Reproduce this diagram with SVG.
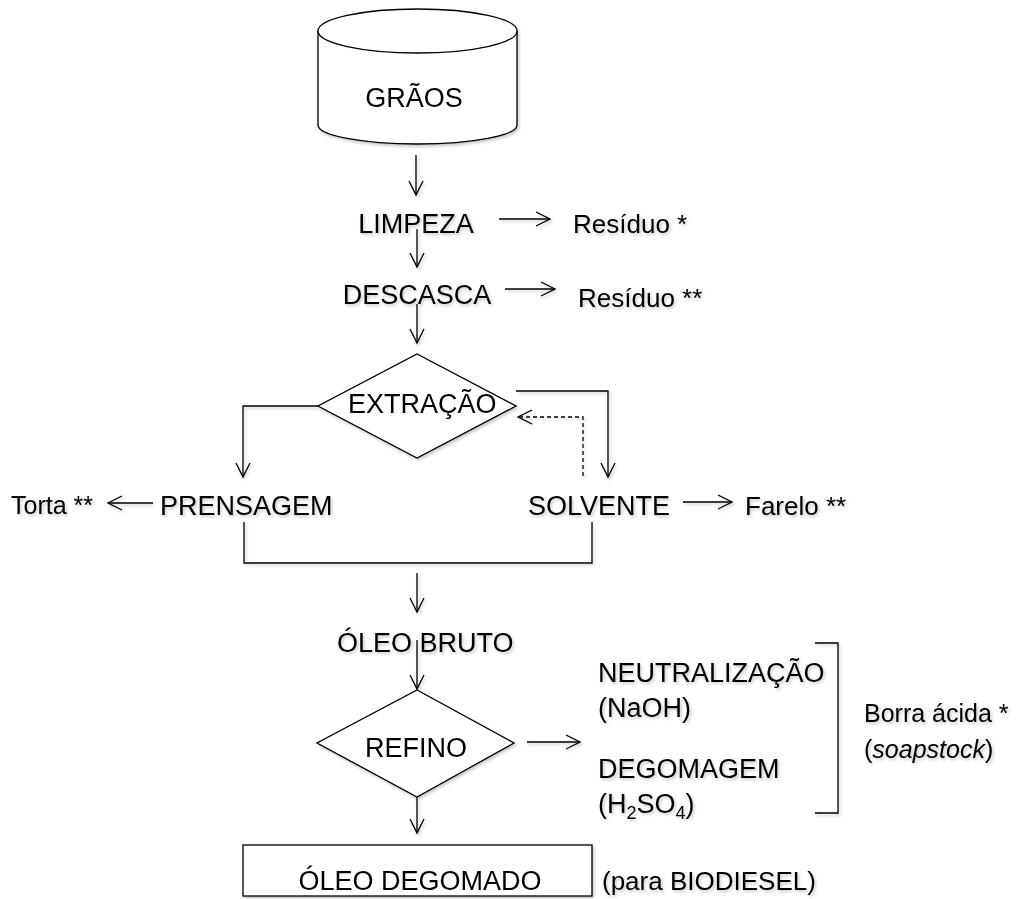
<svg xmlns="http://www.w3.org/2000/svg" width="1017" height="899" viewBox="0 0 1017 899">
<style>
  text { font-family: "Liberation Sans", Arial, sans-serif; font-size: 27px; fill: #000; }
  .s { font-size: 26px; }
  .t { font-size: 25px; }
  .ln { fill: none; stroke: #000; stroke-width: 1.3; }
  .sh { fill: #fff; stroke: #000; stroke-width: 1.3; }
  .dash { fill: none; stroke: #000; stroke-width: 1.3; stroke-dasharray: 4 3; }
</style>
<defs>
  <filter id="shadow" x="-5%" y="-5%" width="110%" height="110%">
    <feDropShadow dx="1.5" dy="2" stdDeviation="1.5" flood-color="#000" flood-opacity="0.22"/>
  </filter>
  <marker id="ah" viewBox="-16 -9 18 18" refX="0" refY="0" markerWidth="18" markerHeight="18" orient="auto" markerUnits="userSpaceOnUse">
    <path d="M-14,-7 L0,0 L-14,7" fill="none" stroke="#000" stroke-width="1.3"/>
  </marker>
</defs>
<rect width="1017" height="899" fill="#fff"/>
<g filter="url(#shadow)">
  <g id="n-graos">
    <path class="sh" d="M318,31 L318,125 A99.5,19 0 0 0 517,125 L517,31"/>
    <ellipse class="sh" cx="417.5" cy="31" rx="99.5" ry="22"/>
    <text x="414" y="107" text-anchor="middle">GRÃOS</text>
  </g>
  <g id="n-limpeza"><text x="416" y="233" text-anchor="middle">LIMPEZA</text></g>
  <g id="n-residuo1"><text class="s" x="573" y="233">Resíduo *</text></g>
  <g id="n-descasca"><text x="417" y="304" text-anchor="middle">DESCASCA</text></g>
  <g id="n-residuo2"><text class="s" x="578" y="307">Resíduo **</text></g>
  <g id="n-extracao">
    <polygon class="sh" points="417,354 516,406 417,458 318,406"/>
    <text x="348" y="413">EXTRAÇÃO</text>
  </g>
  <g id="n-prensagem"><text x="160" y="515">PRENSAGEM</text></g>
  <g id="n-torta"><text class="t" x="11" y="514">Torta **</text></g>
  <g id="n-solvente"><text x="528" y="515">SOLVENTE</text></g>
  <g id="n-farelo"><text class="s" x="745" y="515">Farelo **</text></g>
  <g id="n-oleobruto"><text x="337" y="652">ÓLEO BRUTO</text></g>
  <g id="n-refino">
    <polygon class="sh" points="417,690 514,743 417,797 317,743"/>
    <text x="416" y="757" text-anchor="middle">REFINO</text>
  </g>
  <g id="n-neutralizacao">
    <text x="598" y="682">NEUTRALIZAÇÃO</text>
    <text x="598" y="717">(NaOH)</text>
  </g>
  <g id="n-degomagem">
    <text x="598" y="778">DEGOMAGEM</text>
    <text x="598" y="813">(H<tspan font-size="18" dy="6">2</tspan><tspan dy="-6">SO</tspan><tspan font-size="18" dy="6">4</tspan><tspan dy="-6">)</tspan></text>
  </g>
  <g id="n-bracket">
    <path class="ln" d="M815,643 L838,643 L838,813 L815,813"/>
  </g>
  <g id="n-borra">
    <text class="t" x="864" y="722">Borra ácida *</text>
    <text class="t" x="864" y="758">(<tspan font-style="italic">soapstock</tspan>)</text>
  </g>
  <g id="n-oleodegomado">
    <rect class="sh" x="243" y="845" width="349" height="51"/>
    <text x="420" y="890" text-anchor="middle">ÓLEO DEGOMADO</text>
  </g>
  <g id="n-biodiesel"><text class="s" x="602" y="890">(para BIODIESEL)</text></g>

  <g id="connectors">
    <path class="ln" d="M416,155 L416,195" marker-end="url(#ah)"/>
    <path class="ln" d="M499,219 L550,219" marker-end="url(#ah)"/>
    <path class="ln" d="M417,229 L417,267" marker-end="url(#ah)"/>
    <path class="ln" d="M505,289 L555,289" marker-end="url(#ah)"/>
    <path class="ln" d="M417,304 L417,343" marker-end="url(#ah)"/>
    <path class="ln" d="M318,406 L243,406 L243,477" marker-end="url(#ah)"/>
    <path class="ln" d="M516,391 L608,391 L608,477" marker-end="url(#ah)"/>
    <path class="dash" d="M583,476 L583,417 L518,417"/>
    <path class="ln" d="M532,410 L518,417 L532,424"/>
    <path class="ln" d="M153,503 L108,503" marker-end="url(#ah)"/>
    <path class="ln" d="M683,502 L732,502" marker-end="url(#ah)"/>
    <path class="ln" d="M244,522 L244,563 L592,563 L592,522"/>
    <path class="ln" d="M417,573 L417,612" marker-end="url(#ah)"/>
    <path class="ln" d="M417,640 L417,689" marker-end="url(#ah)"/>
    <path class="ln" d="M527,742 L580,742" marker-end="url(#ah)"/>
    <path class="ln" d="M417,797 L417,833" marker-end="url(#ah)"/>
  </g>
</g>
</svg>
